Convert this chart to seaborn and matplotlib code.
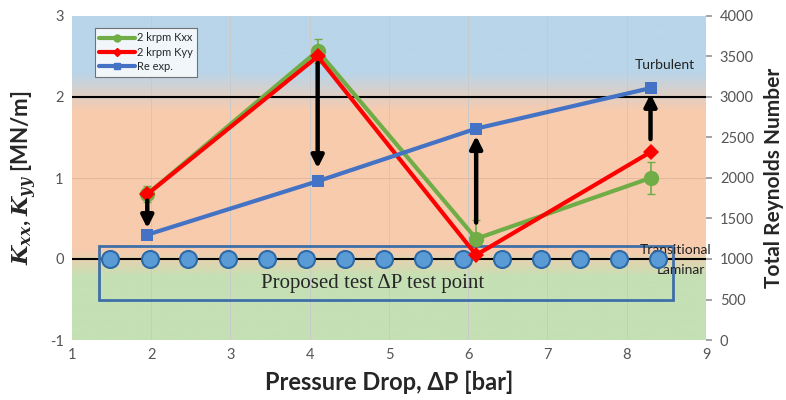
import matplotlib
matplotlib.use("Agg")
import matplotlib.pyplot as plt
import seaborn as sns
import pandas as pd
import numpy as np
from matplotlib.lines import Line2D
from matplotlib.patches import Rectangle

sns.set_theme(style="white")
plt.rcParams['font.family'] = ['Lato', 'DejaVu Sans']
plt.rcParams['axes.unicode_minus'] = False
plt.rcParams['mathtext.fontset'] = 'custom'
plt.rcParams['mathtext.it'] = 'DejaVu Serif:italic:bold'
plt.rcParams['mathtext.rm'] = 'DejaVu Serif:bold'

# measured points (pressure drop in bar)
dp = [1.95, 4.1, 6.1, 8.3]
kxx = [0.80, 2.57, 0.25, 1.00]
kxx_err = [0.10, 0.15, 0.23, 0.20]
kyy = [0.80, 2.50, 0.05, 1.32]
re_exp = [1300, 1960, 2610, 3110]

# proposed test points along the transition line
prop_dp = [1.48, 1.98, 2.47, 2.97, 3.46, 3.95, 4.45, 4.94, 5.43, 5.93, 6.42, 6.92, 7.41, 7.90, 8.39]
prop_k = [0] * len(prop_dp)

# arrows: start, end (K scale)
arrow_y0 = [0.72, 2.42, 0.45, 1.48]
arrow_y1 = [0.38, 1.12, 1.52, 2.04]

df = pd.DataFrame({'dp': dp, 'kxx': kxx, 'kyy': kyy, 're': re_exp})

fig = plt.figure(figsize=(7.86, 4.0), dpi=100)
ax = fig.add_axes([0.0916, 0.15, 0.8066, 0.81])
ax.set_xlim(1, 9)
ax.set_ylim(-1, 3)

# background flow regime bands
yy = np.linspace(-1, 3, 400)
stops = [-1, -0.22, 0.11, 1.82, 2.3, 3]
cols = np.array([[197, 224, 180], [197, 224, 180], [248, 203, 173],
                 [248, 203, 173], [185, 213, 233], [185, 213, 233]]) / 255
img = np.stack([np.interp(yy, stops, cols[:, i]) for i in range(3)], axis=-1)[:, None, :]
ax.imshow(img, extent=[1, 9, -1, 3], origin='lower', aspect='auto', zorder=0)

for x in range(2, 9):
    ax.axvline(x, color='#c9c9c9', lw=0.7, zorder=1)
ax.axhline(1, color='#e0b8a0', lw=0.7, zorder=1)
ax.axhline(2, color='black', lw=1.5, zorder=2)
ax.axhline(0, color='black', lw=1.5, zorder=2)

ax.add_patch(Rectangle((1.34, -0.51), 7.24, 0.67, fill=False, ec='#3f6fa8', lw=2, zorder=3))
sns.scatterplot(x=prop_dp, y=prop_k, ax=ax, s=150, color='#5b9bd5',
                edgecolor='#2e6aa8', linewidth=1.5, zorder=4, legend=False)
ax.text(4.79, -0.3, 'Proposed test \u0394P test point', ha='center', va='center',
        fontsize=15, family=['Liberation Serif', 'DejaVu Serif'], zorder=5)

ax.errorbar(dp, kxx, yerr=kxx_err, fmt='none', ecolor='#70ad47', elinewidth=1.2,
            capsize=3, zorder=5)
sns.lineplot(data=df, x='dp', y='kxx', ax=ax, color='#70ad47', lw=3, marker='o',
             markersize=11, markeredgewidth=0, zorder=6)
sns.lineplot(data=df, x='dp', y='kyy', ax=ax, color='#ff0000', lw=3, marker='D',
             markersize=8, markeredgewidth=0, zorder=7)

for x, a, b in zip(dp, arrow_y0, arrow_y1):
    ax.annotate('', xy=(x, b), xytext=(x, a), zorder=8,
                arrowprops=dict(arrowstyle='-|>,head_width=0.3,head_length=0.6',
                                color='black', lw=3.2, shrinkA=0, shrinkB=0))

ax.text(8.48, 2.4, 'Turbulent', ha='center', va='center', fontsize=10, color='#222222')
ax.text(8.62, 0.11, 'Transitional', ha='center', va='center', fontsize=10, color='#222222')
ax.text(8.68, -0.14, 'Laminar', ha='center', va='center', fontsize=10, color='#222222')

ax2 = ax.twinx()
ax2.set_ylim(0, 4000)
sns.lineplot(data=df, x='dp', y='re', ax=ax2, color='#4472c4', lw=3, marker='s',
             markersize=9, markeredgewidth=0, zorder=6)

ax.set_xticks(range(1, 10))
ax.set_yticks(range(-1, 4))
ax2.set_yticks(range(0, 4001, 500))
for a in (ax, ax2):
    a.tick_params(labelsize=10.5, labelcolor='#555555', length=0, pad=6)
    for s in a.spines.values():
        s.set_visible(False)
ax2.tick_params(axis='y', length=4, color='#999999', direction='out')
ax.tick_params(axis='y', length=0)

ax.set_xlabel('Pressure Drop, \u0394P [bar]', fontsize=17, fontweight='bold', labelpad=6)
ax.set_ylabel(r'$K_{xx}$, $K_{yy}$ [MN/m]', fontsize=16, fontweight='bold', labelpad=8)
ax2.set_ylabel('Total Reynolds Number', fontsize=15, fontweight='bold', labelpad=7)
ax2.set_xlabel('')

handles = [Line2D([], [], color='#70ad47', lw=3, marker='o', ms=5),
           Line2D([], [], color='#ff0000', lw=3, marker='D', ms=4),
           Line2D([], [], color='#4472c4', lw=3, marker='s', ms=4)]
leg = ax2.legend(handles, ['2 krpm Kxx', '2 krpm Kyy', 'Re exp.'], loc='upper left',
                 bbox_to_anchor=(0.027, 0.98), fontsize=8, frameon=True, fancybox=False,
                 handlelength=3.2, handletextpad=0.2, borderpad=0.4, labelspacing=0.3)
leg.get_frame().set_edgecolor('#555555')
leg.get_frame().set_facecolor('white')
leg.get_frame().set_linewidth(0.8)

fig.savefig('out.png', dpi=100)
